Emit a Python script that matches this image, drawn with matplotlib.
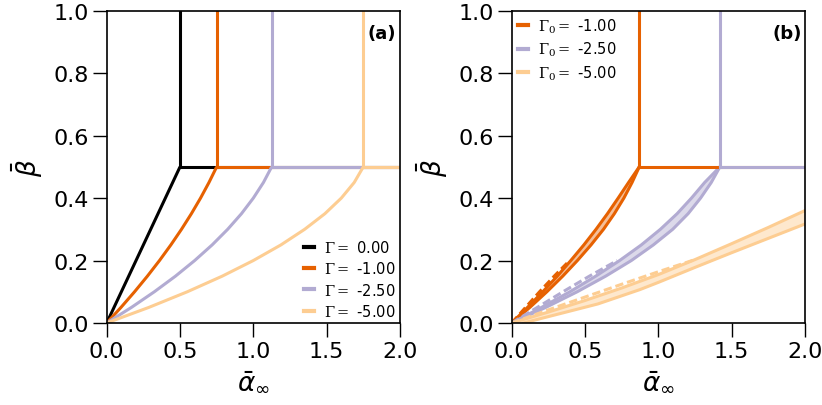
import matplotlib
matplotlib.use("Agg")
import matplotlib.pyplot as plt
import numpy as np
from matplotlib.font_manager import FontProperties

# ---------------- data ----------------
# panel (a): phase boundaries for several Gamma
gamma_a = [0.00, -1.00, -2.50, -5.00]
beta_a = [0.0, 0.05, 0.10, 0.15, 0.20, 0.25, 0.30, 0.35, 0.40, 0.45, 0.50]
alpha_a_g0 = [0.0, 0.05, 0.10, 0.15, 0.20, 0.25, 0.30, 0.35, 0.40, 0.45, 0.50]
alpha_a_g1 = [0.0, 0.0975, 0.19, 0.2775, 0.36, 0.4375, 0.51, 0.5775, 0.64, 0.6975, 0.75]
alpha_a_g25 = [0.0, 0.169, 0.325, 0.469, 0.60, 0.719, 0.825, 0.919, 1.00, 1.069, 1.125]
alpha_a_g5 = [0.0, 0.288, 0.55, 0.788, 1.00, 1.188, 1.35, 1.488, 1.60, 1.688, 1.75]
alpha_crit_a = [0.50, 0.75, 1.125, 1.75]
beta_crit = 0.5

# panel (b): bands for several Gamma_0
gamma0_b = [-1.00, -2.50, -5.00]
beta_b = [0.0, 0.05, 0.10, 0.15, 0.20, 0.25, 0.30, 0.35, 0.40, 0.45, 0.50]
orange_left = [0.0, 0.108, 0.212, 0.311, 0.403, 0.492, 0.575, 0.653, 0.726, 0.797, 0.87]
orange_right = [0.0, 0.124, 0.240, 0.348, 0.448, 0.541, 0.626, 0.700, 0.765, 0.821, 0.87]
orange_dash_beta = [0.0, 0.05, 0.10, 0.15, 0.20]
orange_dash_alpha = [0.0, 0.095, 0.19, 0.29, 0.395]
lav_left = [0.0, 0.204, 0.397, 0.573, 0.736, 0.884, 1.014, 1.128, 1.226, 1.316, 1.42]
lav_right = [0.0, 0.233, 0.447, 0.641, 0.816, 0.966, 1.098, 1.203, 1.288, 1.361, 1.42]
lav_dash_beta = [0.0, 0.05, 0.10, 0.15, 0.20]
lav_dash_alpha = [0.0, 0.175, 0.35, 0.53, 0.72]
peach_up_alpha = [0.0, 0.25, 0.50, 0.75, 1.00, 1.25, 1.50, 1.75, 2.00, 2.10]
peach_up_beta = [0.0, 0.035, 0.072, 0.112, 0.155, 0.203, 0.254, 0.306, 0.360, 0.382]
peach_lo_alpha = [0.08, 0.33, 0.588, 0.875, 1.00, 1.25, 1.50, 1.75, 2.00, 2.10]
peach_lo_beta = [0.0, 0.030, 0.061, 0.107, 0.130, 0.178, 0.225, 0.271, 0.317, 0.335]
peach_dash_alpha = [0.0, 0.25, 0.50, 0.75, 1.00, 1.25]
peach_dash_beta = [0.0, 0.042, 0.083, 0.124, 0.164, 0.203]
alpha_crit_b = [0.87, 1.42]

x_ticks = [0.0, 0.5, 1.0, 1.5, 2.0]
y_ticks = [0.0, 0.2, 0.4, 0.6, 0.8, 1.0]
x_lim = (0.0, 2.0)
y_lim = (0.0, 1.0)

# ---------------- style ----------------
c_black = "#000000"
c_orange = "#e66101"
c_lav = "#b2abd2"
c_peach = "#fdcd92"
colors_a = [c_black, c_orange, c_lav, c_peach]
colors_b = [c_orange, c_lav, c_peach]
LW = 2.2
DASH = (0, (2.7, 1.3))

fig = plt.figure(figsize=(8.22, 4.06), dpi=100)
ax1 = fig.add_axes([0.1298, 0.202, 0.3568, 0.7692])
ax2 = fig.add_axes([0.6225, 0.202, 0.3568, 0.7692])


def style_axes(ax):
    ax.set_xlim(*x_lim)
    ax.set_ylim(*y_lim)
    ax.set_xticks(x_ticks)
    ax.set_yticks(y_ticks)
    ax.tick_params(direction="out", length=10, width=1.0, labelsize=16, pad=3)
    for s in ax.spines.values():
        s.set_linewidth(1.2)
    ax.set_xlabel(r"$\bar{\alpha}_{\infty}$", fontsize=19, labelpad=5)
    ax.set_ylabel(r"$\bar{\beta}$", fontsize=19, labelpad=6)


# panel (a)
curves_a = [alpha_a_g0, alpha_a_g1, alpha_a_g25, alpha_a_g5]
for g, al, col, ac in zip(gamma_a, curves_a, colors_a, alpha_crit_a):
    ax1.plot(al, beta_a, color=col, lw=LW, solid_capstyle="butt")
    ax1.plot([ac, x_lim[1]], [beta_crit, beta_crit], color=col, lw=LW)
    ax1.plot([ac, ac], [beta_crit, y_lim[1]], color=col, lw=LW)
handles_a = [plt.Line2D([], [], color=c, lw=3) for c in colors_a]
labels_a = [r"$\Gamma = $ " + f"{g:.2f}" for g in gamma_a]
fp = FontProperties(size=10.5, math_fontfamily="dejavuserif")
ax1.legend(handles_a, labels_a, loc="lower right", frameon=False, prop=fp,
           handlelength=0.7, handletextpad=0.7, labelspacing=0.35,
           borderaxespad=0.2, borderpad=0.1)
ax1.text(0.988, 0.93, "(a)", transform=ax1.transAxes, ha="right", va="center",
         fontsize=13, fontweight="bold")
style_axes(ax1)

# panel (b)
ax2.fill_betweenx(beta_b, orange_left, orange_right, color=c_orange, alpha=0.4, lw=0)
ax2.fill_betweenx(beta_b, lav_left, lav_right, color=c_lav, alpha=0.45, lw=0)
ax2.fill(np.concatenate([peach_up_alpha, peach_lo_alpha[::-1]]),
         np.concatenate([peach_up_beta, peach_lo_beta[::-1]]),
         color=c_peach, alpha=0.45, lw=0)

for left, right, col in [(orange_left, orange_right, c_orange), (lav_left, lav_right, c_lav)]:
    ax2.plot(left, beta_b, color=col, lw=LW)
    ax2.plot(right, beta_b, color=col, lw=LW)
ax2.plot(peach_up_alpha, peach_up_beta, color=c_peach, lw=LW)
ax2.plot(peach_lo_alpha, peach_lo_beta, color=c_peach, lw=LW)

for ac, col in zip(alpha_crit_b, [c_orange, c_lav]):
    ax2.plot([ac, x_lim[1]], [beta_crit, beta_crit], color=col, lw=LW)
    ax2.plot([ac, ac], [beta_crit, y_lim[1]], color=col, lw=LW)

ax2.plot(orange_dash_alpha, orange_dash_beta, color=c_orange, lw=LW, linestyle=DASH)
ax2.plot(lav_dash_alpha, lav_dash_beta, color=c_lav, lw=LW, linestyle=DASH)
ax2.plot(peach_dash_alpha, peach_dash_beta, color=c_peach, lw=LW, linestyle=DASH)

handles_b = [plt.Line2D([], [], color=c, lw=3) for c in colors_b]
labels_b = [r"$\Gamma_0 = $ " + f"{g:.2f}" for g in gamma0_b]
ax2.legend(handles_b, labels_b, loc="upper left", frameon=False, prop=fp,
           handlelength=0.7, handletextpad=0.7, labelspacing=0.35,
           borderaxespad=0.3, borderpad=0.1)
ax2.text(0.988, 0.93, "(b)", transform=ax2.transAxes, ha="right", va="center",
         fontsize=13, fontweight="bold")
style_axes(ax2)

fig.savefig("out.png", dpi=100)
